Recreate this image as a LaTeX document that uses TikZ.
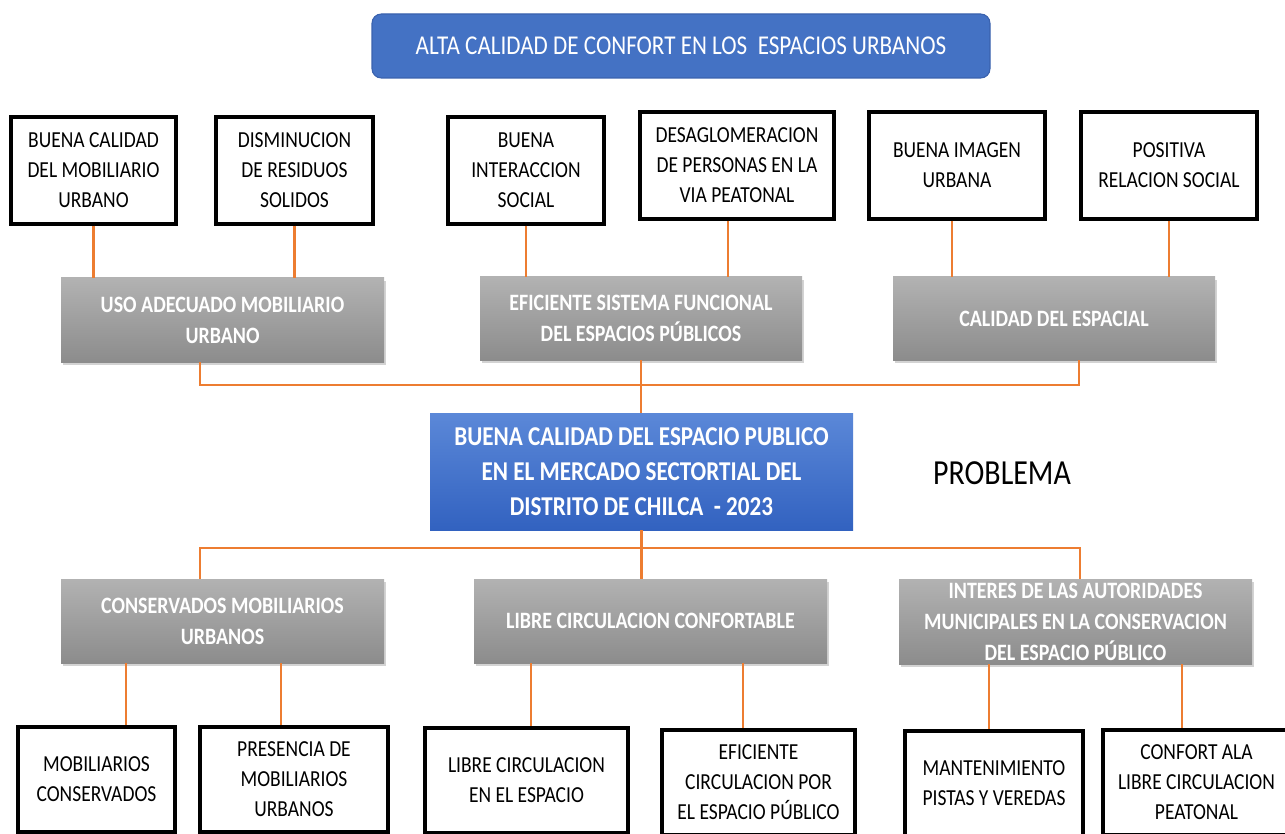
\documentclass[tikz,border=0pt]{standalone}
\usepackage{fontspec}
\setmainfont{Carlito}[FakeStretch=0.85]
\usetikzlibrary{shadows,calc}
\definecolor{orng}{HTML}{ED7D31}
\definecolor{tblue}{HTML}{4472C4}
\definecolor{tblueb}{HTML}{3A62AE}
\definecolor{cbtop}{HTML}{5B88D8}
\definecolor{cbbot}{HTML}{3262C0}
\definecolor{gtop}{HTML}{B2B2B2}
\definecolor{gbot}{HTML}{8C8C8C}
\tikzset{
  sz/.style 2 args={minimum width=#1*0.75pt, minimum height=#2*0.75pt},
  wbox/.style={draw=black, line width=2.4pt, fill=white, align=center, inner sep=0pt,
    font=\fontsize{17.2}{22.5}\selectfont},
  gbox/.style={top color=gtop, bottom color=gbot, draw=none, align=center, inner sep=0pt,
    text=white, font=\bfseries\fontsize{17.6}{23.25}\selectfont,
    drop shadow={shadow xshift=1.5pt, shadow yshift=-2pt, opacity=0.35}},
  conn/.style={draw=orng, line width=1.6pt},
}
\begin{document}
\begin{tikzpicture}[x=0.75pt,y=-0.75pt]
\useasboundingbox (0,0) rectangle (1285,834);
\clip (0,0) rectangle (1285,834);
% title
\node[sz={618}{64}, rounded corners=7pt, fill=tblue, draw=tblueb, line width=0.8pt, text=white,
  font=\fontsize{20.4}{24}\selectfont] (title) at (681,46) {ALTA CALIDAD DE CONFORT EN LOS \ ESPACIOS URBANOS};
% top boxes
\node[wbox, sz={165}{107}] (t1) at (93.5,170.5) {BUENA CALIDAD\\DEL MOBILIARIO\\URBANO};
\node[wbox, sz={157}{107}] (t2) at (294.5,170.5) {DISMINUCION\\DE RESIDUOS\\SOLIDOS};
\node[wbox, sz={156}{107}] (t3) at (526,170.5) {BUENA\\INTERACCION\\SOCIAL};
\node[wbox, sz={194}{107}] (t4) at (737,165.5) {DESAGLOMERACION\\DE PERSONAS EN LA\\VIA PEATONAL};
\node[wbox, sz={176}{107}] (t5) at (957,165.5) {BUENA IMAGEN\\URBANA};
\node[wbox, sz={176}{107}] (t6) at (1169,165.5) {POSITIVA\\RELACION SOCIAL};
% gray top
\node[gbox, sz={323}{84}] (g1) at (222.5,320) {USO ADECUADO MOBILIARIO\\URBANO};
\node[gbox, sz={322}{83}] (g2) at (641,318.5) {EFICIENTE SISTEMA FUNCIONAL\\DEL ESPACIOS PÚBLICOS};
\node[gbox, sz={322}{83}] (g3) at (1054,318.5) {CALIDAD DEL ESPACIAL};
% central
\node[sz={423}{117}, top color=cbtop, bottom color=cbbot, draw=none, text=white, align=center,
  font=\bfseries\fontsize{20.4}{26.25}\selectfont, inner sep=0pt] (c) at (641.5,471.5)
  {BUENA CALIDAD DEL ESPACIO PUBLICO\\EN EL MERCADO SECTORTIAL DEL\\DISTRITO DE CHILCA \ - 2023};
\node[font=\fontsize{26.4}{30}\selectfont, inner sep=0pt] (prob) at (1002,473) {PROBLEMA};
% gray bottom
\node[gbox, sz={323}{84}] (b1) at (222.5,621) {CONSERVADOS MOBILIARIOS\\URBANOS};
\node[gbox, sz={353}{84}] (b2) at (650.5,621) {LIBRE CIRCULACION CONFORTABLE};
\node[gbox, sz={353}{85}] (b3) at (1075.5,621.5) {INTERES DE LAS AUTORIDADES\\MUNICIPALES EN LA CONSERVACION\\DEL ESPACIO PÚBLICO};
% bottom boxes
\node[wbox, sz={157}{105}] (l1) at (96.5,779.5) {MOBILIARIOS\\CONSERVADOS};
\node[wbox, sz={188}{105}] (l2) at (294,779.5) {PRESENCIA DE\\MOBILIARIOS\\URBANOS};
\node[wbox, sz={203}{105}] (l3) at (526.5,780.5) {LIBRE CIRCULACION\\EN EL ESPACIO};
\node[wbox, sz={193}{105}] (l4) at (758.5,782.5) {EFICIENTE\\CIRCULACION POR\\EL ESPACIO PÚBLICO};
\node[wbox, sz={178}{105}] (l5) at (994,783.5) {MANTENIMIENTO\\PISTAS Y VEREDAS};
\node[wbox, sz={187}{105}] (l6) at (1196.5,782.5) {CONFORT ALA\\LIBRE CIRCULACION\\PEATONAL};
% coordinates for buses
\coordinate (bus1) at (0,385);
\coordinate (bus2) at (0,548);
% connectors top
\draw[conn] (t1.south) -- (t1.south |- g1.north);
\draw[conn] (t2.south) -- (t2.south |- g1.north);
\draw[conn] (t3.south) -- (t3.south |- g2.north);
\draw[conn] ($(t4.south)+(-9,0)$) -- ($(t4.south |- g2.north)+(-9,0)$);
\draw[conn] ($(t5.south)+(-5,0)$) -- ($(t5.south |- g3.north)+(-5,0)$);
\draw[conn] (t6.south) -- (t6.south |- g3.north);
\draw[conn] ($(g1.south)+(-22.5,0)$) |- (bus1 -| c.north) -| ($(g3.south)+(25,0)$);
\draw[conn] (g2.south |- c.north) -- (g2.south);
\draw[conn] (c.south) -- (c.south |- bus2);
\draw[conn] ($(b1.north)+(-22.5,0)$) |- (bus2 -| c.south) -| ($(b3.north)+(4.5,0)$);
\draw[conn] (b2.north -| c.south) -- (c.south |- bus2);
% connectors bottom
\draw[conn] ($(b1.south)+(-96.5,0)$) -- ($(l1.north)+(29.5,0)$);
\draw[conn] ($(b1.south)+(58.5,0)$) -- ($(l2.north)+(-13,0)$);
\draw[conn] ($(b2.south)+(-119.5,0)$) -- ($(l3.north)+(4.5,0)$);
\draw[conn] ($(b2.south)+(92.5,0)$) -- ($(l4.north)+(-15.5,0)$);
\draw[conn] ($(b3.south)+(-86.5,0)$) -- ($(l5.north)+(-5,0)$);
\draw[conn] ($(b3.south)+(106.5,0)$) -- ($(l6.north)+(-14.5,0)$);
\end{tikzpicture}
\end{document}
